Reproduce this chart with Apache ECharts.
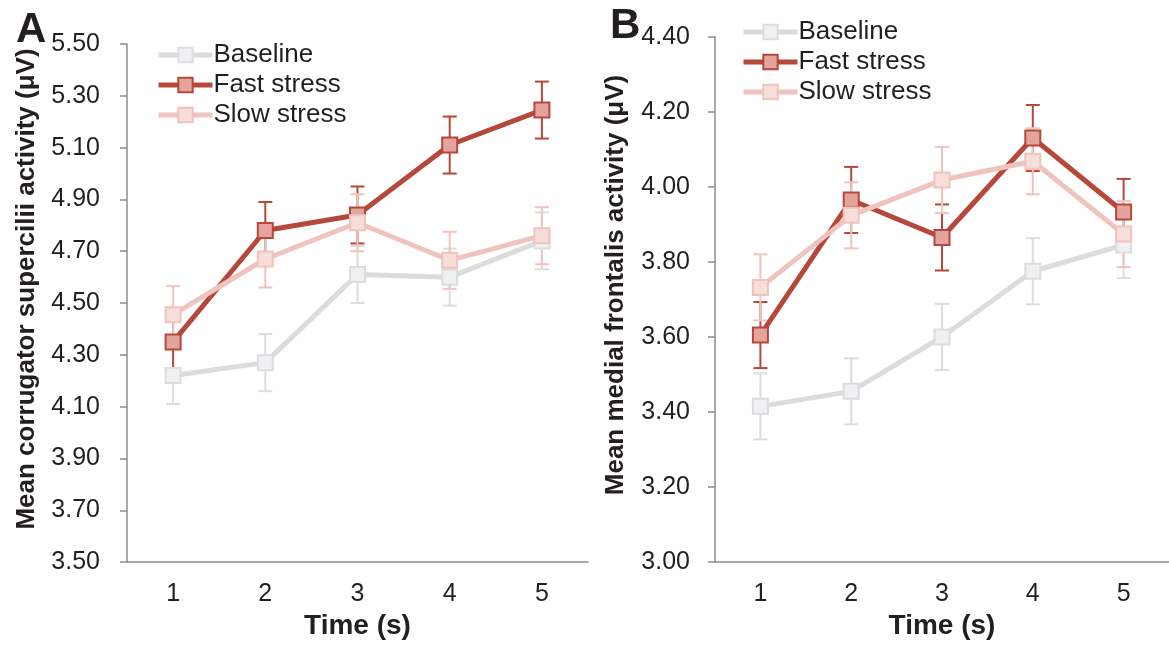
<!DOCTYPE html>
<html>
<head>
<meta charset="utf-8">
<script src="https://cdn.jsdelivr.net/npm/echarts@6/dist/echarts.min.js"></script>
<style>
html,body{margin:0;padding:0;background:#fff;}
#main{width:1169px;height:645px;}
</style>
</head>
<body>
<div id="main"></div>
<script>
// ---- Data ----
var timeCategories = ['1', '2', '3', '4', '5'];

// Panel A: corrugator supercilii
var aBaseline = [4.22, 4.27, 4.61, 4.60, 4.74];
var aBaselineErr = [0.11, 0.11, 0.11, 0.11, 0.11];
var aFast = [4.35, 4.78, 4.84, 5.11, 5.245];
var aFastErr = [0.11, 0.11, 0.11, 0.11, 0.11];
var aSlow = [4.455, 4.67, 4.81, 4.665, 4.76];
var aSlowErr = [0.11, 0.11, 0.11, 0.11, 0.11];

// Panel B: medial frontalis
var bBaseline = [3.415, 3.455, 3.60, 3.775, 3.845];
var bBaselineErr = [0.088, 0.088, 0.088, 0.088, 0.088];
var bFast = [3.605, 3.965, 3.865, 4.13, 3.933];
var bFastErr = [0.088, 0.088, 0.088, 0.088, 0.088];
var bSlow = [3.732, 3.924, 4.018, 4.068, 3.874];
var bSlowErr = [0.088, 0.088, 0.088, 0.088, 0.088];

var seriesNames = ['Baseline', 'Fast stress', 'Slow stress'];
var aYTicks = {min: 3.5, max: 5.5, interval: 0.2};
var bYTicks = {min: 3.0, max: 4.4, interval: 0.2};

// ---- Styles ----
var styles = {
  'Baseline':    {line: '#dcdcdd', fill: '#eff0f2', border: '#dcdddf', err: '#dcdcdd'},
  'Fast stress': {line: '#b5483a', fill: '#e3a49e', border: '#b5483a', err: '#b5483a'},
  'Slow stress': {line: '#efc3be', fill: '#f7dedb', border: '#efc3be', err: '#efc3be'}
};
var textColor = '#231f20';
var axisColor = '#8c8c8c';
var fontFam = '"Liberation Sans", Arial, sans-serif';

function errData(vals, errs) {
  return vals.map(function (v, i) { return [i, v - errs[i], v + errs[i]]; });
}

function errSeries(name, vals, errs, axisIdx) {
  var c = styles[name].err;
  return {
    type: 'custom',
    name: name + ' err',
    xAxisIndex: axisIdx, yAxisIndex: axisIdx,
    data: errData(vals, errs),
    silent: true,
    renderItem: function (params, api) {
      var x = api.value(0);
      var lo = api.coord([x, api.value(1)]);
      var hi = api.coord([x, api.value(2)]);
      var hw = 7;
      var st = {stroke: c, lineWidth: 2};
      return {
        type: 'group',
        children: [
          {type: 'line', shape: {x1: lo[0], y1: lo[1], x2: hi[0], y2: hi[1]}, style: st},
          {type: 'line', shape: {x1: lo[0] - hw, y1: lo[1], x2: lo[0] + hw, y2: lo[1]}, style: st},
          {type: 'line', shape: {x1: hi[0] - hw, y1: hi[1], x2: hi[0] + hw, y2: hi[1]}, style: st}
        ]
      };
    },
    z: 2
  };
}

function lineSeries(name, vals, axisIdx) {
  var s = styles[name];
  return {
    type: 'line',
    name: name,
    xAxisIndex: axisIdx, yAxisIndex: axisIdx,
    data: vals,
    symbol: 'rect',
    symbolSize: 15,
    showAllSymbol: true,
    lineStyle: {color: s.line, width: 5},
    itemStyle: {color: s.fill, borderColor: s.border, borderWidth: 2},
    emphasis: {disabled: true},
    animation: false,
    z: 3
  };
}

function yAxisCfg(idx, t, margin) {
  return {
    type: 'value', gridIndex: idx,
    min: t.min, max: t.max, interval: t.interval,
    axisLine: {show: true, lineStyle: {color: axisColor, width: 1.5}},
    axisTick: {show: true, inside: false, length: 7, lineStyle: {color: axisColor, width: 1.5}},
    splitLine: {show: false},
    axisLabel: {
      color: textColor, fontSize: 25, fontFamily: fontFam, margin: margin,
      formatter: function (v) { return v.toFixed(2); }
    }
  };
}

function xAxisCfg(idx, gap) {
  return {
    type: 'category', gridIndex: idx, data: timeCategories,
    boundaryGap: true,
    axisLine: {show: true, lineStyle: {color: axisColor, width: 1.5}},
    axisTick: {show: false},
    axisLabel: {color: textColor, fontSize: 25, fontFamily: fontFam, margin: 20},
    name: 'Time (s)', nameLocation: 'middle', nameGap: gap,
    nameTextStyle: {color: textColor, fontSize: 28, fontWeight: 'bold', fontFamily: fontFam}
  };
}

function legendCfg(left, top) {
  return {
    data: seriesNames,
    left: left, top: top, orient: 'vertical',
    itemWidth: 54, itemHeight: 18, itemGap: 4,
    selectedMode: false,
    lineStyle: {width: 5},
    textStyle: {color: textColor, fontSize: 26, fontFamily: fontFam, padding: [0, 0, 0, -4], lineHeight: 26}
  };
}

var chart = echarts.init(document.getElementById('main'), null, {renderer: 'canvas'});

var option = {
  backgroundColor: '#ffffff',
  animation: false,
  grid: [
    {left: 127, top: 44, width: 461, height: 527},
    {left: 715, top: 36.7, width: 463, height: 528.3}
  ],
  xAxis: [xAxisCfg(0, 42), xAxisCfg(1, 49)],
  yAxis: [yAxisCfg(0, aYTicks, 27), yAxisCfg(1, bYTicks, 25)],
  legend: [legendCfg(151, 37), legendCfg(736, 14)],
  graphic: [
    {type: 'text', left: 16, top: 9, style: {text: 'A', fontSize: 42, fontWeight: 'bold', fill: textColor, fontFamily: fontFam}},
    {type: 'text', left: 610, top: 5, style: {text: 'B', fontSize: 42, fontWeight: 'bold', fill: textColor, fontFamily: fontFam}},
    {type: 'text', x: 27, y: 289, rotation: Math.PI / 2,
     style: {text: 'Mean corrugator supercilii activity (μV)', fontSize: 26, fontWeight: 'bold', fill: textColor, fontFamily: fontFam, align: 'center', verticalAlign: 'middle'}},
    {type: 'text', x: 616, y: 285, rotation: Math.PI / 2,
     style: {text: 'Mean medial frontalis activity (μV)', fontSize: 26, fontWeight: 'bold', fill: textColor, fontFamily: fontFam, align: 'center', verticalAlign: 'middle'}}
  ],
  series: [
    errSeries('Baseline', aBaseline, aBaselineErr, 0),
    lineSeries('Baseline', aBaseline, 0),
    errSeries('Fast stress', aFast, aFastErr, 0),
    lineSeries('Fast stress', aFast, 0),
    errSeries('Slow stress', aSlow, aSlowErr, 0),
    lineSeries('Slow stress', aSlow, 0),
    errSeries('Baseline', bBaseline, bBaselineErr, 1),
    lineSeries('Baseline', bBaseline, 1),
    errSeries('Fast stress', bFast, bFastErr, 1),
    lineSeries('Fast stress', bFast, 1),
    errSeries('Slow stress', bSlow, bSlowErr, 1),
    lineSeries('Slow stress', bSlow, 1)
  ]
};
chart.setOption(option);
</script>
</body>
</html>
